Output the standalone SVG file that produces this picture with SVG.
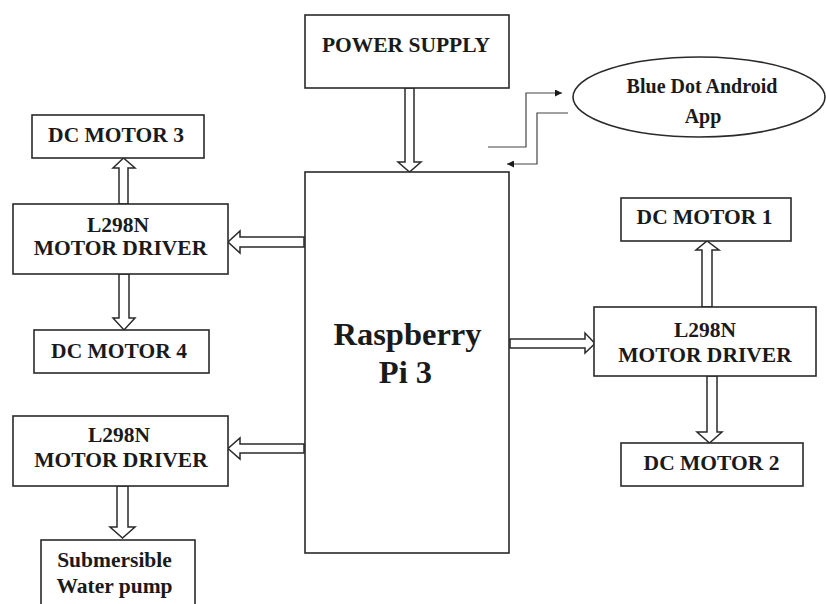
<svg xmlns="http://www.w3.org/2000/svg" width="826" height="604" viewBox="0 0 826 604">
<defs>
<style>
.box{fill:#fff;stroke:#2a2a2a;stroke-width:1.6}
.blk{fill:#fff;stroke:#2a2a2a;stroke-width:1.5;stroke-linejoin:miter}
.thin{fill:none;stroke:#444;stroke-width:1.2}
text{font-family:"Liberation Serif","Times New Roman",serif;font-weight:bold;fill:#1a1a1a;text-anchor:middle}
.lbl{font-size:21.5px}
.big{font-size:32.5px}
.app{font-size:20px}
</style>
<marker id="ah" viewBox="0 0 10 10" refX="10" refY="5" markerWidth="9" markerHeight="7" markerUnits="userSpaceOnUse" orient="auto">
<path d="M0,0 L10,5 L0,10 z" fill="#1a1a1a"/>
</marker>
</defs>
<rect width="826" height="604" fill="#fff"/>

<g id="connectors">
<polygon class="blk" points="405,88 414,88 414,162 421,162 409.5,172 398,162 405,162"/>
<polygon class="blk" points="304,237 304,247 240,247 240,253 228,242 240,231 240,237"/>
<polygon class="blk" points="119,204 128,204 128,168 135,168 123.5,158 113,168 119,168"/>
<polygon class="blk" points="119,274 129,274 129,318 135,318 124,330 113,318 119,318"/>
<polygon class="blk" points="304,444 304,453 240,453 240,459 228,448.5 240,438 240,444"/>
<polygon class="blk" points="117,486 128,486 128,527 135,527 122.5,538 110,527 117,527"/>
<polygon class="blk" points="510,339 510,348 585,348 585,353 595,343.5 585,333 585,339"/>
<polygon class="blk" points="702,307 712,307 712,250 719,250 707,241 696,250 702,250"/>
<polygon class="blk" points="707,376 717,376 717,432 722,432 709.5,443 697,432 707,432"/>
<polyline class="thin" points="488,147 526,147 526,93 562,93" marker-end="url(#ah)"/>
<polyline class="thin" points="568,113 537,113 537,164 507,164" marker-end="url(#ah)"/>
</g>

<g id="power-supply">
<rect class="box" x="305" y="15" width="204" height="73"/>
<text class="lbl" x="406" y="52">POWER SUPPLY</text>
</g>

<g id="raspberry-pi">
<rect class="box" x="305" y="172" width="204" height="381"/>
<text class="big" x="407.5" y="345">Raspberry</text>
<text class="big" x="405.5" y="383">Pi 3</text>
</g>

<g id="blue-dot-app">
<ellipse class="box" cx="699" cy="97" rx="126" ry="40"/>
<text class="app" x="702" y="93">Blue Dot Android</text>
<text class="app" x="703" y="123">App</text>
</g>

<g id="dc-motor-3">
<rect class="box" x="32" y="115" width="172" height="43"/>
<text class="lbl" x="116" y="142">DC MOTOR 3</text>
</g>

<g id="driver-left-top">
<rect class="box" x="13" y="204" width="215" height="70"/>
<text class="lbl" x="118" y="232">L298N</text>
<text class="lbl" x="120.5" y="255">MOTOR DRIVER</text>
</g>

<g id="dc-motor-4">
<rect class="box" x="34" y="330" width="175" height="43"/>
<text class="lbl" x="119" y="358">DC MOTOR 4</text>
</g>

<g id="driver-left-bottom">
<rect class="box" x="13" y="416" width="215" height="70"/>
<text class="lbl" x="119" y="442">L298N</text>
<text class="lbl" x="121" y="467">MOTOR DRIVER</text>
</g>

<g id="water-pump">
<rect class="box" x="41" y="540" width="154" height="70"/>
<text class="lbl" x="114.5" y="567">Submersible</text>
<text class="lbl" x="114.5" y="593">Water pump</text>
</g>

<g id="dc-motor-1">
<rect class="box" x="621" y="198" width="170" height="43"/>
<text class="lbl" x="704.5" y="224">DC MOTOR 1</text>
</g>

<g id="driver-right">
<rect class="box" x="594" y="307" width="222" height="69"/>
<text class="lbl" x="705" y="337">L298N</text>
<text class="lbl" x="705" y="362">MOTOR DRIVER</text>
</g>

<g id="dc-motor-2">
<rect class="box" x="621" y="443" width="182" height="43"/>
<text class="lbl" x="711.5" y="470">DC MOTOR 2</text>
</g>
</svg>
